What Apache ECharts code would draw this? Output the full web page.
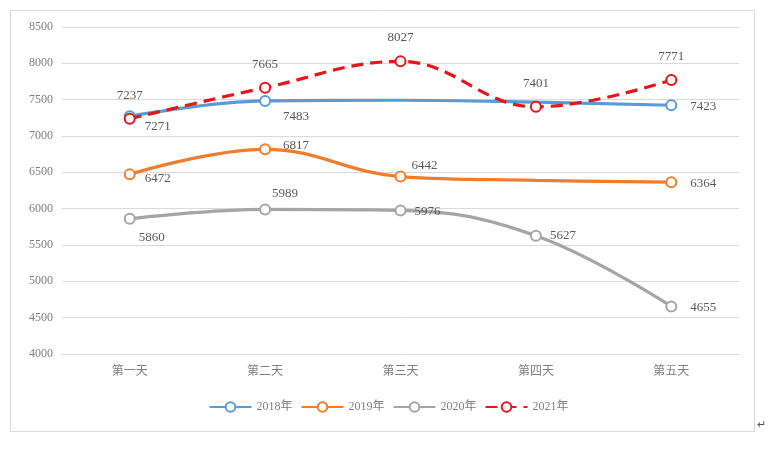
<!DOCTYPE html>
<html><head><meta charset="utf-8">
<script src="https://cdn.jsdelivr.net/npm/echarts@6/dist/echarts.min.js"></script>
<style>html,body{margin:0;padding:0;background:#fff}#c{width:777px;height:451px}</style>
</head><body><div id="c"></div>
<script>
const categories = ['第一天','第二天','第三天','第四天','第五天'];
const seriesNames = ['2018年','2019年','2020年','2021年'];
const v2018 = [7271, 7483, 7492, 7465, 7423];
const v2019 = [6472, 6817, 6442, 6390, 6364];
const v2020 = [5860, 5989, 5976, 5627, 4655];
const v2021 = [7237, 7665, 8027, 7401, 7771];
const yTicks = {min: 4000, max: 8500, interval: 500};
// which points show marker+label
const shown2018 = [true, true, false, false, true];
const shown2019 = [true, true, true, false, true];

const FONT = '"Liberation Serif", "Noto Sans CJK SC", serif';
const colors = ['#5B9BD5', '#ED7D31', '#A5A5A5', '#E3161B'];
// label placements: [position, dx, dy]
const labelPos = [
  [['right',4,10],['right',7,16],null,null,['right',8,1]],
  [['right',4,4],['right',7,-4],['right',0,-11],null,['right',8,1]],
  [['right',-2,19],['top',20,2],['right',3,1],['right',3,0],['right',8,1]],
  [['top',0,-6],['top',0,-6],['top',0,-6],['top',0,-6],['top',0,-6]]
];
const allVals = [v2018, v2019, v2020, v2021];
const shownAll = [shown2018, shown2019, [1,1,1,1,1], [1,1,1,1,1]];

const series = allVals.map((vals, si) => ({
  name: seriesNames[si],
  type: 'line',
  smooth: 0.4,
  symbol: 'emptyCircle',
  symbolSize: 10,
  z: si === 3 ? 5 : 3,
  lineStyle: {width: 3.2, color: colors[si], type: si === 3 ? [12, 7] : 'solid'},
  itemStyle: {color: colors[si], borderWidth: 1.3},
  data: vals.map((v, i) => {
    const p = labelPos[si][i];
    const show = !!shownAll[si][i];
    return {
      value: v,
      symbolSize: show ? 10 : 0,
      label: show && p ? {show: true, position: p[0], offset: [p[1], p[2]], formatter: '{c}',
        color: '#595959', fontSize: 13, fontFamily: FONT} : {show: false}
    };
  })
}));

const chart = echarts.init(document.getElementById('c'), null, {renderer: 'canvas'});
chart.setOption({
  animation: false,
  backgroundColor: '#fff',
  color: colors,
  grid: {left: 62, right: 38, top: 27, bottom: 97},
  graphic: [
    {type: 'rect', shape: {x: 10.5, y: 10.5, width: 744, height: 421},
     style: {fill: 'none', stroke: '#D9D9D9', lineWidth: 1}, silent: true},
    {type: 'text', left: 757, top: 420, style: {text: '↵', fill: '#555', font: '11px ' + FONT}}
  ],
  xAxis: {
    type: 'category', data: categories, boundaryGap: true,
    axisLine: {show: true, lineStyle: {color: '#D9D9D9'}},
    axisTick: {show: false},
    axisLabel: {color: '#7F7F7F', fontSize: 12, fontFamily: FONT, margin: 12}
  },
  yAxis: {
    type: 'value', min: yTicks.min, max: yTicks.max, interval: yTicks.interval,
    axisLine: {show: false}, axisTick: {show: false},
    splitLine: {lineStyle: {color: '#D9D9D9'}},
    axisLabel: {color: '#7F7F7F', fontSize: 12, fontFamily: FONT, margin: 9,
      formatter: v => String(v)}
  },
  legend: {
    data: seriesNames, bottom: 33, left: 'center', itemWidth: 42, itemHeight: 12, itemGap: 8,
    textStyle: {color: '#7F7F7F', fontSize: 12, fontFamily: FONT}
  },
  series: series
});
</script></body></html>
